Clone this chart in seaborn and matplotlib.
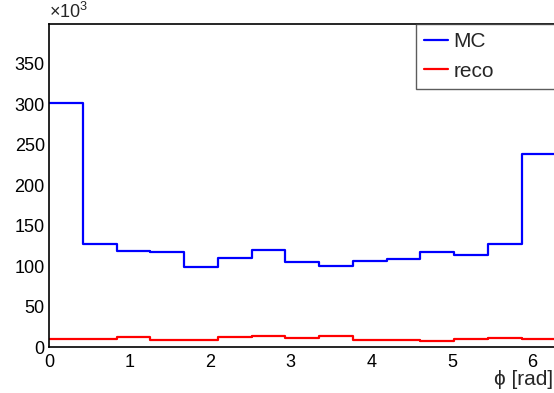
import numpy as np
import pandas as pd
import matplotlib
matplotlib.use("Agg")
import matplotlib.pyplot as plt
from matplotlib.ticker import MultipleLocator, FormatStrFormatter
import seaborn as sns

# Azimuthal angle distribution, 15 bins over [0, 2pi], counts in units of 10^3
n_bins = 15
phi_min, phi_max = 0.0, 2 * np.pi
mc_counts = [302.0, 127.5, 118.0, 117.0, 99.0, 109.5, 119.5, 104.5,
             99.5, 106.0, 108.5, 117.0, 113.5, 127.5, 238.0]
reco_counts = [10.3, 10.3, 11.8, 8.2, 8.2, 12.0, 13.0, 11.0,
               14.2, 9.0, 8.4, 7.0, 9.8, 10.8, 9.6]
series_names = ["MC", "reco"]
series_colors = ["blue", "red"]
x_title = "\u03d5 [rad]"

edges = np.linspace(phi_min, phi_max, n_bins + 1)
centers = 0.5 * (edges[:-1] + edges[1:])
df = pd.DataFrame({
    "phi": np.concatenate([centers, centers]),
    "count": np.concatenate([mc_counts, reco_counts]),
    "sample": [series_names[0]] * n_bins + [series_names[1]] * n_bins,
})

sns.set_theme(style="white")
plt.rcParams["font.family"] = ["Liberation Sans", "DejaVu Sans"]
plt.rcParams["mathtext.fontset"] = "custom"
plt.rcParams["mathtext.rm"] = "Liberation Sans"
plt.rcParams["mathtext.it"] = "Liberation Sans"

fig = plt.figure(figsize=(5.54, 3.93), dpi=100)
W, H = 554, 393
ax = fig.add_axes([49 / W, (H - 347) / H, 506.5 / W, 323 / H])

for name, color in zip(series_names, series_colors):
    sub = df[df["sample"] == name]
    sns.histplot(data=sub, x="phi", weights="count", bins=n_bins,
                 binrange=(phi_min, phi_max),
                 element="step", fill=False, color=color, linewidth=1.6,
                 ax=ax, label=name)

ax.set_xlim(phi_min, phi_max)
ax.set_ylim(0, 399)
ax.set_ylabel("")
ax.set_xlabel(x_title, fontsize=15, loc="right")
ax.xaxis.set_label_coords(0.996, -0.071)

ax.xaxis.set_major_locator(MultipleLocator(1))
ax.xaxis.set_minor_locator(MultipleLocator(0.2))
ax.yaxis.set_major_locator(MultipleLocator(50))
ax.yaxis.set_minor_locator(MultipleLocator(10))
ax.yaxis.set_major_formatter(FormatStrFormatter("%d"))
ax.xaxis.set_major_formatter(FormatStrFormatter("%d"))

ax.tick_params(axis="both", which="both", direction="in", colors="black",
               labelsize=13, top=False, right=False, width=1.0)
ax.tick_params(axis="y", which="major", length=10, pad=3)
ax.tick_params(axis="y", which="minor", length=5)
ax.tick_params(axis="x", which="major", length=6.5, pad=5.0)
ax.tick_params(axis="x", which="minor", length=3.2)

for side in ["left", "bottom", "top", "right"]:
    ax.spines[side].set_visible(True)
    ax.spines[side].set_color("black")
    ax.spines[side].set_linewidth(1.2)

ax.text(0.0, 1.005, "\u00d710$^{3}$", transform=ax.transAxes,
        ha="left", va="bottom", fontsize=13)

hist_lines = ax.get_lines()
leg = fig.legend(handles=hist_lines[:2], labels=series_names,
                 loc="upper left",
                 bbox_to_anchor=(416 / W, 0.0, 200 / W, (H - 24) / H),
                 bbox_transform=fig.transFigure,
                 mode="expand", borderaxespad=0.0,
                 fontsize=15, frameon=True, fancybox=False, shadow=False,
                 handlelength=1.15, handletextpad=0.25, borderpad=0.4,
                 labelspacing=0.5)
leg.get_frame().set_edgecolor("#333333")
leg.get_frame().set_linewidth(1.0)
for line in leg.get_lines():
    line.set_linewidth(1.6)

fig.savefig("out.png", dpi=100)
